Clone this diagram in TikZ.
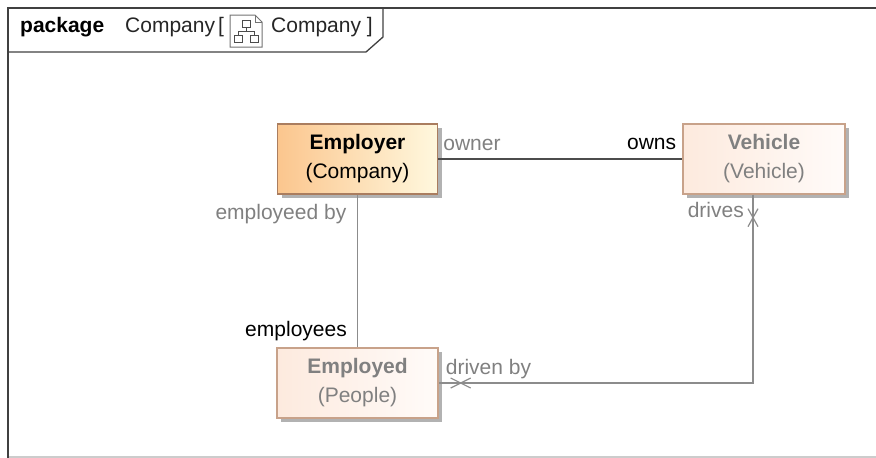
\documentclass[tikz,border=0pt]{standalone}
\usepackage{fontspec}
\setmainfont{Liberation Sans}
\usepackage{tikz}
\usetikzlibrary{positioning,shadows}
\definecolor{framecol}{RGB}{64,64,64}
\definecolor{empL}{RGB}{251,198,142}
\definecolor{empR}{RGB}{255,248,222}
\definecolor{empB}{RGB}{170,125,95}
\definecolor{fadeL}{RGB}{253,234,222}
\definecolor{fadeR}{RGB}{255,251,249}
\definecolor{fadeB}{RGB}{200,162,138}
\definecolor{txtgray}{RGB}{128,128,128}

\begin{document}
\begin{tikzpicture}[x=1pt,y=-1pt,
    every node/.style={font=\fontsize{21}{24}\selectfont},
    cls/.style={draw, line width=1.3pt, align=center, inner sep=0pt,
      minimum height=70pt,
      drop shadow={shadow xshift=4pt,shadow yshift=-4pt,fill=black!30,opacity=1}},
    solid cls/.style={cls, draw=empB, left color=empL, right color=empR, text=black},
    faded cls/.style={cls, draw=fadeB, left color=fadeL, right color=fadeR, text=txtgray},
    lbl/.style={inner sep=0pt, text=txtgray},
    role/.style={inner sep=0pt, text=black},
    link/.style={line width=1.2pt, draw=black!45},
    xmark/.style={line width=1.2pt, draw=black!45}]
    \useasboundingbox (0,0) rectangle (876,458);
    % frame and its tab
    \draw[framecol, line width=1.5pt] (876,8) -- (8,8) -- (8,458);
    \draw[black!20, line width=1.2pt] (9,457) -- (876,457);
    \draw[framecol, line width=1.3pt] (8,52) -- (366,52) -- (383,37) -- (383,8);
    \node[anchor=base west, inner sep=0pt] (pkgkw) at (20,32) {\textbf{package}};
    \node[anchor=base west, inner sep=0pt, text=black!85] (pkgname) at (125,32) {Company\hspace{3pt}[};
    \node[anchor=base west, inner sep=0pt, text=black!85] (pkgref) at (271,32) {Company ]};
    \draw[black!55, line width=1pt, fill=white] (230,15) -- (255,15) -- (262,22) -- (262,47) -- (230,47) -- cycle;
    \draw[black!55, line width=1pt] (255,15) -- (255,22) -- (262,22);
    \draw[black!70, line width=1pt] (246,27) -- (246,31) (238,31) -- (254,31) (238,31) -- (238,35) (254,31) -- (254,35);
    \draw[black!70, line width=1pt, fill=white] (242,20) rectangle (250,27) (234,35) rectangle (242,42) (250,35) rectangle (258,42);
    % parts
    \node[solid cls, minimum width=160pt] (employer) at (357.5,159) {\textbf{Employer}\\[5pt](Company)};
    \node[faded cls, minimum width=162pt] (vehicle) at (764,159) {\textbf{Vehicle}\\[5pt](Vehicle)};
    \node[faded cls, minimum width=161pt] (employed) at (357.5,383) {\textbf{Employed}\\[5pt](People)};
    % connectors
    \draw[line width=1.2pt, draw=black!70] (employer.east) -- (vehicle.west);
    \draw[link] (employer.south) -- (employed.north);
    \coordinate (drvtop) at ([xshift=-11pt]vehicle.south);
    \draw[link] (drvtop) |- (employed.east);
    \coordinate (xdrives) at ([yshift=-23pt]drvtop);
    \coordinate (xdriven) at ([xshift=22pt]employed.east);
    \draw[xmark] (xdriven) ++(-10,-5) -- ++(20,10) (xdriven) ++(-10,5) -- ++(20,-10);
    \draw[xmark] (xdrives) ++(-5,-9) -- ++(10,18) (xdrives) ++(5,-9) -- ++(-10,18);
    % end labels
    \node[lbl, anchor=base west] (owner) at ([xshift=5pt,yshift=9pt]employer.east) {owner};
    \node[role, anchor=base east] (owns) at ([xshift=-6pt,yshift=10pt]vehicle.west) {owns};
    \node[lbl, anchor=base east] (employedby) at ([xshift=-11pt,yshift=-24.5pt]employer.south) {employeed by};
    \node[role, anchor=base east] (employees) at ([xshift=-10.5pt,yshift=11pt]employed.north) {employees};
    \node[lbl, anchor=base east] (drives) at ([xshift=-9pt,yshift=-23pt]drvtop) {drives};
    \node[lbl, anchor=base west] (drivenby) at ([xshift=7pt,yshift=9pt]employed.east) {driven by};
\end{tikzpicture}
\end{document}
